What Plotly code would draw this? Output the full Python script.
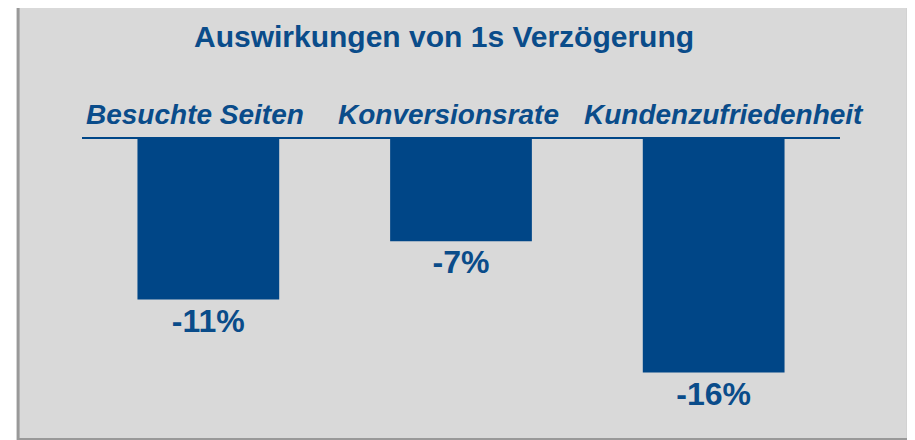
import plotly.graph_objects as go

categories = ["Besuchte Seiten", "Konversionsrate", "Kundenzufriedenheit"]
values = [-11, -7, -16]
value_labels = ["-11%", "-7%", "-16%"]
title_text = "Auswirkungen von 1s Verzögerung"

BLUE = "#004687"
TEXT_BLUE = "#0A4C8A"
FONT = "Arial, Liberation Sans, sans-serif"

OFF = 8  # page body margin
W, H = 915 - OFF, 440 - OFF
ML, MR, MT, MB = 81.5 - OFF, 74.5, 139 - OFF, 9
PW = W - ML - MR
PH = H - MT - MB


def px_x(px):
    return (px - OFF - ML) / PW


def px_y(py):
    return (H - MB - (py - OFF)) / PH


fig = go.Figure()
fig.add_trace(go.Bar(
    x=categories,
    y=values,
    marker=dict(color=BLUE, line=dict(width=0)),
    text=value_labels,
    textposition="outside",
    textfont=dict(family=FONT, size=32, color=TEXT_BLUE, weight="bold"),
    cliponaxis=False,
    hoverinfo="skip",
))

# background box
fig.add_shape(type="rect", xref="paper", yref="paper",
              x0=px_x(17.5), x1=px_x(909), y0=px_y(439.5), y1=px_y(6),
              fillcolor="#D9D9D9", line=dict(color="#999999", width=3),
              layer="below")

annotations = [dict(
    text="<b>" + title_text + "</b>", xref="paper", yref="paper",
    x=px_x(444), y=px_y(37), xanchor="center", yanchor="middle",
    showarrow=False, font=dict(family=FONT, size=30, color=TEXT_BLUE))]

shifts = [-13, -13, 10]
for c, s in zip(categories, shifts):
    annotations.append(dict(
        text="<b><i>" + c + "</i></b>", xref="x", yref="paper",
        x=c, xshift=s, y=px_y(114), xanchor="center", yanchor="middle",
        showarrow=False, font=dict(family=FONT, size=28, color=TEXT_BLUE)))

fig.update_layout(
    width=W, height=H,
    margin=dict(l=ML, r=MR, t=MT, b=MB, pad=0),
    paper_bgcolor="white",
    plot_bgcolor="rgba(0,0,0,0)",
    bargap=0.439,
    showlegend=False,
    annotations=annotations,
    xaxis=dict(side="top", showline=True, linecolor=BLUE, linewidth=2,
               showticklabels=False, ticks="", showgrid=False, zeroline=False,
               range=[-0.5, 2.5]),
    yaxis=dict(range=[-20, 0], visible=False, showgrid=False, zeroline=False),
)

fig.write_html("out.html", config={"displayModeBar": False})
